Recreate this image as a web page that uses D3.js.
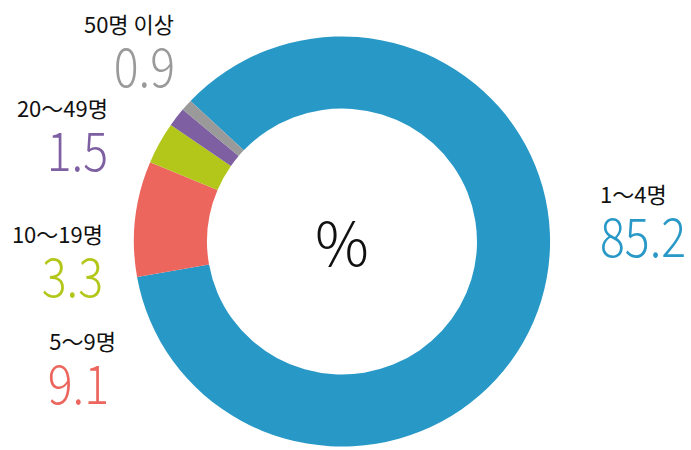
<!DOCTYPE html>
<meta charset="utf-8">
<style>
    body { margin: 0; background: #fff; }
    text { font-family: "Noto Sans CJK KR", "Noto Sans", sans-serif; }
    .cat { font-size: 22px; font-weight: 400; fill: #111; }
    .val { font-size: 54px; font-weight: 300; }
    .unit { font-size: 60px; font-weight: 300; fill: #111; }
</style>
<svg id="chart" width="691" height="450"></svg>
<script src="https://cdn.jsdelivr.net/npm/d3@7"></script>
<script>
    var categories = ["1～4명", "5～9명", "10～19명", "20～49명", "50명 이상"];
    var values = [85.2, 9.1, 3.3, 1.5, 0.9];
    var colors = ["#2898c7", "#ec665e", "#b3c71b", "#7d5fa2", "#9a9a9a"];

    // label anchor points (x, baseline of category), and text anchoring
    var labelPos = [
        { x: 600, y: 203, vx: 600, anchor: "start" },
        { x: 116, y: 350, vx: 109, anchor: "end" },
        { x: 103, y: 243, vx: 103, anchor: "end" },
        { x: 108, y: 117, vx: 108, anchor: "end" },
        { x: 174, y: 33, vx: 175, anchor: "end" }
    ];

    var svg = d3.select("#chart"),
        cx = 342, cy = 241.5,
        outerR = 205, innerR = 133;

    var total = d3.sum(values);
    var rest = total - values[0];
    var start = -100 * Math.PI / 180 + (rest / total) * 2 * Math.PI;

    var pie = d3.pie().sort(null).value(function (d) { return d; })
        .startAngle(start).endAngle(start + 2 * Math.PI);

    var arc = d3.arc().innerRadius(innerR).outerRadius(outerR);

    var g = svg.append("g")
        .attr("transform", "translate(" + cx + "," + cy + ") scale(1.015,1)");

    g.selectAll("path")
        .data(pie(values))
        .enter().append("path")
        .attr("d", arc)
        .attr("fill", function (d, i) { return colors[i]; });

    svg.append("text")
        .attr("class", "unit")
        .attr("x", cx)
        .attr("y", cy + 24)
        .attr("text-anchor", "middle")
        .text("%");

    var labels = svg.selectAll(".label")
        .data(categories)
        .enter().append("g")
        .attr("class", "label");

    labels.append("text")
        .attr("class", "cat")
        .attr("x", function (d, i) { return labelPos[i].x; })
        .attr("y", function (d, i) { return labelPos[i].y; })
        .attr("text-anchor", function (d, i) { return labelPos[i].anchor; })
        .text(function (d) { return d; });

    // value numbers are narrow in the original, squeeze them a bit
    labels.append("text")
        .attr("class", "val")
        .attr("transform", function (d, i) {
            return "translate(" + labelPos[i].vx + "," + (labelPos[i].y + 54) + ") scale(0.86,1)";
        })
        .attr("text-anchor", function (d, i) { return labelPos[i].anchor; })
        .attr("fill", function (d, i) { return colors[i]; })
        .text(function (d, i) { return values[i].toFixed(1); });
</script>
